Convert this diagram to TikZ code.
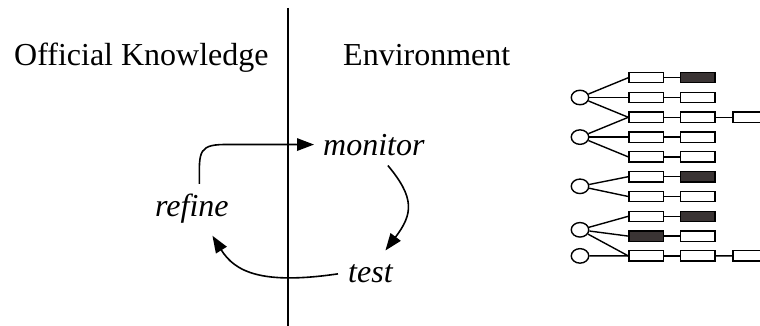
\documentclass[tikz,border=0pt]{standalone}
\usepackage{fontspec}
\setmainfont{Liberation Serif}
\usetikzlibrary{arrows.meta,shapes.geometric}
\definecolor{darkbox}{RGB}{58,52,52}
\tikzset{
  lbl/.style={inner sep=0pt, anchor=base west, font=\fontsize{32}{38}\selectfont},
  ilbl/.style={lbl, font=\fontsize{32}{38}\selectfont\itshape},
  arr/.style={line width=1.6pt, -{Triangle[length=17pt,width=12.5pt]}},
  divider/.style={line width=1.5pt},
  box/.style={draw, line width=1.3pt, minimum width=34.5pt, minimum height=10.3pt, inner sep=0pt},
  dot/.style={draw, ellipse, line width=1.4pt, minimum width=17.5pt, minimum height=14.5pt, inner sep=0pt},
  tl/.style={line width=1.4pt}
}
\begin{document}
\begin{tikzpicture}[x=1pt,y=-1pt]
\useasboundingbox (0,0) rectangle (760,326);
% headings and divider
\node[lbl] (ok) at (14,66) {Official Knowledge};
\node[lbl] (env) at (343,66) {Environment};
\coordinate (dtop) at (288,8);
\coordinate (dbot) at (288,330);
\draw[divider] (dtop) -- (dbot);
% cycle
\node[ilbl] (monitor) at (323,155) {monitor};
\node[ilbl] (refine) at (155,216.7) {refine};
\node[ilbl] (test) at (348,282.7) {test};
\draw[arr] ([xshift=7.5pt,yshift=10pt]refine.north) .. controls (199,150) and (198,144) .. (230,144.5) -- ([xshift=-9pt]monitor.west);
\draw[arr] ([xshift=14pt,yshift=-10pt]monitor.south) .. controls (415,198) and (413,214) .. ([xshift=15pt,yshift=14pt]test.north);
\draw[arr] ([xshift=-10pt]test.west) .. controls (262,285) and (235,272) .. ([xshift=20.5pt,yshift=-12pt]refine.south);
% tree
\foreach \i/\fa/\fb in {0/white/darkbox,1/white/white,2/white/white,3/white/white,4/white/white,5/white/darkbox,6/white/white,7/white/darkbox,8/darkbox/white,9/white/white}{
  \pgfmathsetmacro\yy{77.7+19.8*\i}
  \node[box,fill=\fa] (a\i) at (646.2,\yy) {};
  \node[box,fill=\fb] (b\i) at (697.8,\yy) {};
  \draw[tl] (a\i) -- (b\i);
}
\node[box] (c2) at (750.2,117.3) {};
\node[box] (c9) at (750.2,255.9) {};
\draw[tl] (b2) -- (c2);
\draw[tl] (b9) -- (c9);
\node[dot] (d1) at (580,97.5) {};
\node[dot] (d2) at (580,137.1) {};
\node[dot] (d3) at (580,186.3) {};
\node[dot] (d4) at (580,229.8) {};
\node[dot] (d5) at (580,255.9) {};
\foreach \d/\a in {d1/a0,d1/a1,d1/a2,d2/a2,d2/a3,d2/a4,d3/a5,d3/a6,d4/a7,d4/a8,d4/a9,d5/a9}{
  \draw[tl] (\d) -- (\a.west);
}
\end{tikzpicture}
\end{document}
